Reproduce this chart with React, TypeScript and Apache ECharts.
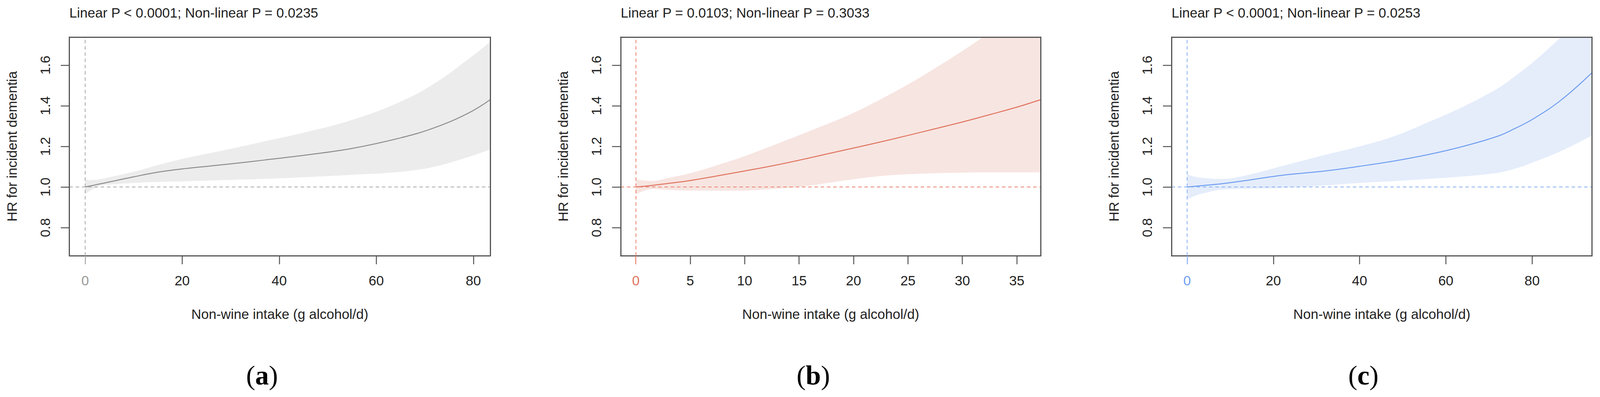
import React, { useEffect, useRef } from "react";
import * as echarts from "echarts";

// ---------- data ----------
const panelTitles = [
  "Linear P < 0.0001; Non-linear P = 0.0235",
  "Linear P = 0.0103; Non-linear P = 0.3033",
  "Linear P < 0.0001; Non-linear P = 0.0253",
];
const panelLetters = ["a", "b", "c"];
const xAxisTitle = "Non-wine intake (g alcohol/d)";
const yAxisTitle = "HR for incident dementia";
const yTicks = [0.8, 1.0, 1.2, 1.4, 1.6];

const xTicksA = [20, 40, 60, 80];
const xTicksB = [5, 10, 15, 20, 25, 30, 35];
const xTicksC = [20, 40, 60, 80];

// Panel (a)
const xA = [0, 1, 2, 3, 5, 10, 15, 20, 30, 37, 45, 55, 65, 72, 79, 83.5];
const estA = [1.0, 1.005, 1.01, 1.015, 1.025, 1.05, 1.073, 1.089, 1.114, 1.133, 1.156, 1.19, 1.242, 1.292, 1.364, 1.43];
const loA = [0.965, 0.982, 0.995, 1.005, 1.012, 1.02, 1.025, 1.028, 1.035, 1.04, 1.048, 1.06, 1.075, 1.1, 1.148, 1.185];
const hiA = [1.036, 1.034, 1.035, 1.038, 1.048, 1.075, 1.108, 1.138, 1.188, 1.225, 1.267, 1.33, 1.42, 1.51, 1.63, 1.715];

// Panel (b)
const xB = [0, 1.5, 3, 5, 7.5, 10, 12.5, 15, 17.5, 20, 22.5, 25, 27.5, 30, 32.5, 35, 37.2];
const estB = [1.0, 1.008, 1.018, 1.032, 1.055, 1.079, 1.104, 1.132, 1.162, 1.192, 1.222, 1.254, 1.287, 1.32, 1.356, 1.393, 1.43];
const loB = [0.963, 0.99, 0.986, 0.983, 0.982, 0.983, 0.99, 1.0, 1.019, 1.038, 1.054, 1.063, 1.068, 1.071, 1.072, 1.072, 1.072];
const hiB = [1.037, 1.03, 1.045, 1.068, 1.108, 1.152, 1.203, 1.255, 1.308, 1.365, 1.432, 1.505, 1.585, 1.67, 1.76, 1.855, 1.94];

// Panel (c)
const xC = [0, 2, 4, 8, 14, 22, 32, 40, 48, 56, 64, 72, 76, 80, 86.6, 94];
const estC = [1.0, 1.004, 1.008, 1.016, 1.033, 1.058, 1.079, 1.102, 1.128, 1.16, 1.2, 1.25, 1.288, 1.332, 1.426, 1.565];
const loC = [0.9375, 0.958, 0.97, 0.987, 0.991, 0.995, 1.008, 1.02, 1.029, 1.04, 1.052, 1.07, 1.09, 1.12, 1.176, 1.255];
const hiC = [1.0625, 1.05, 1.044, 1.04, 1.059, 1.103, 1.158, 1.2, 1.25, 1.32, 1.395, 1.485, 1.545, 1.61, 1.735, 1.88];

// ---------- layout / style ----------
const FONT = "'Liberation Sans', Arial, Helvetica, sans-serif";
const SERIF = "'Liberation Serif', 'Times New Roman', serif";
const panels = [
  { x: xA, est: estA, lo: loA, hi: hiA, ticks: xTicksA, xmin: -3.24, xmax: 83.48, left: 183, width: 1110, labelX: 691,
    line: "#8a8e8a", band: "#ececec", dash: "#a9a9a9", zero: "#9a9a9a" },
  { x: xB, est: estB, lo: loB, hi: hiB, ticks: xTicksB, xmin: -1.39, xmax: 37.2, left: 1637, width: 1108, labelX: 2145,
    line: "#e0735e", band: "#f7e5e1", dash: "#e8836f", zero: "#e0735e" },
  { x: xC, est: estC, lo: loC, hi: hiC, ticks: xTicksC, xmin: -3.6, xmax: 93.9, left: 3090, width: 1109, labelX: 3596,
    line: "#6f9ef0", band: "#e5edfb", dash: "#8ab0f2", zero: "#6f9ef0" },
];
const REF_W = 4220;
const REF_H = 1017;
const TOP = 95;
const HEIGHT = 560;
const YMIN = 0.662;
const YMAX = 1.738;
const BOX = "#555555";
const SMOOTH = 0.4;

export default function App() {
  const ref = useRef<HTMLDivElement>(null);
  useEffect(() => {
    document.body.style.margin = "0";
    document.body.style.overflow = "hidden";
    if (!ref.current) return;
    const chart = echarts.init(ref.current, undefined, { renderer: "svg" });
    const cw = chart.getWidth();
    const ch = chart.getHeight();
    const sx = cw / REF_W;
    const sy = ch / REF_H;
    const fs = (v: number) => v * sy;

    const grid: any[] = [];
    const xAxis: any[] = [];
    const yAxis: any[] = [];
    const series: any[] = [];
    const graphic: any[] = [];

    panels.forEach((p, i) => {
      grid.push({ left: p.left * sx, top: TOP * sy, width: p.width * sx, height: HEIGHT * sy, show: false });
      const xBase = 3 * i;
      xAxis.push({
        type: "value", gridIndex: i, position: "bottom", min: p.xmin, max: p.xmax, z: 5,
        axisLine: { show: true, onZero: false, lineStyle: { color: BOX, width: 3 } },
        axisTick: { show: true, length: fs(22), customValues: p.ticks, lineStyle: { color: BOX, width: 2.5 } },
        axisLabel: { show: true, customValues: p.ticks, margin: fs(46), fontSize: fs(35), color: "#222", fontFamily: FONT },
        splitLine: { show: false },
        name: xAxisTitle, nameLocation: "middle", nameGap: fs(132),
        nameTextStyle: { fontSize: fs(35), color: "#222", fontFamily: FONT },
      });
      xAxis.push({
        type: "value", gridIndex: i, position: "bottom", min: p.xmin, max: p.xmax, z: 6,
        axisLine: { show: false },
        axisTick: { show: true, length: fs(22), customValues: [0], lineStyle: { color: p.dash, width: 2.5 } },
        axisLabel: { show: true, customValues: [0], margin: fs(46), fontSize: fs(35), color: p.zero, fontFamily: FONT },
        splitLine: { show: false },
      });
      xAxis.push({
        type: "value", gridIndex: i, position: "top", min: p.xmin, max: p.xmax, z: 5,
        axisLine: { show: true, onZero: false, lineStyle: { color: BOX, width: 3 } },
        axisTick: { show: false }, axisLabel: { show: false }, splitLine: { show: false },
      });
      yAxis.push({
        type: "value", gridIndex: i, position: "left", min: YMIN, max: YMAX, z: 5,
        axisLine: { show: true, onZero: false, lineStyle: { color: BOX, width: 3 } },
        axisTick: { show: true, length: fs(22), customValues: yTicks, lineStyle: { color: BOX, width: 2.5 } },
        axisLabel: {
          show: true, customValues: yTicks, rotate: 90, margin: fs(45), fontSize: fs(35), color: "#222", fontFamily: FONT,
          formatter: (v: number) => v.toFixed(1),
        },
        splitLine: { show: false },
        name: yAxisTitle, nameLocation: "middle", nameGap: fs(130), nameRotate: 90,
        nameTextStyle: { fontSize: fs(35), color: "#222", fontFamily: FONT },
      });
      yAxis.push({
        type: "value", gridIndex: i, position: "right", min: YMIN, max: YMAX, z: 5,
        axisLine: { show: true, onZero: false, lineStyle: { color: BOX, width: 3 } },
        axisTick: { show: false }, axisLabel: { show: false }, splitLine: { show: false },
      });
      const yBase = 2 * i;
      // upper bound filled down to the axis start with the band colour
      series.push({
        type: "line", xAxisIndex: xBase, yAxisIndex: yBase, symbol: "none", smooth: SMOOTH, z: 1,
        silent: true, lineStyle: { opacity: 0, width: 0 },
        areaStyle: { color: p.band, opacity: 1, origin: "start" },
        data: p.x.map((x, k) => [x, p.hi[k]]),
      });
      // lower bound filled down with white (background), leaving the band
      series.push({
        type: "line", xAxisIndex: xBase, yAxisIndex: yBase, symbol: "none", smooth: SMOOTH, z: 2,
        silent: true, lineStyle: { opacity: 0, width: 0 },
        areaStyle: { color: "#ffffff", opacity: 1, origin: "start" },
        data: p.x.map((x, k) => [x, p.lo[k]]),
      });
      series.push({
        type: "line", xAxisIndex: xBase, yAxisIndex: yBase, symbol: "none", smooth: SMOOTH, z: 3,
        lineStyle: { color: p.line, width: 2.5 },
        data: p.x.map((x, k) => [x, p.est[k]]),
        markLine: {
          silent: true, symbol: ["none", "none"], label: { show: false },
          lineStyle: { color: p.dash, width: 2, type: [9, 7] },
          data: [{ xAxis: 0 }, { yAxis: 1 }],
        },
      });
      graphic.push({
        type: "text", x: p.left * sx, y: 32 * sy,
        style: { text: panelTitles[i], font: `${fs(35)}px ${FONT}`, fill: "#222", textVerticalAlign: "middle", textAlign: "left" },
      });
      graphic.push({
        type: "text", x: p.labelX * sx, y: 961 * sy,
        style: {
          text: `{p|(}{b|${panelLetters[i]}}{p|)}`, textAlign: "center", textVerticalAlign: "middle",
          rich: {
            p: { fontSize: fs(70), fontFamily: SERIF, fill: "#000" },
            b: { fontSize: fs(70), fontWeight: "bold", fontFamily: SERIF, fill: "#000" },
          },
        },
      });
    });

    chart.setOption({
      animation: false,
      backgroundColor: "#ffffff",
      textStyle: { fontFamily: FONT },
      grid, xAxis, yAxis, series, graphic,
    });
    return () => chart.dispose();
  }, []);
  return <div ref={ref} style={{ position: "fixed", left: 0, top: 0, width: "100vw", height: "100vh" }} />;
}
